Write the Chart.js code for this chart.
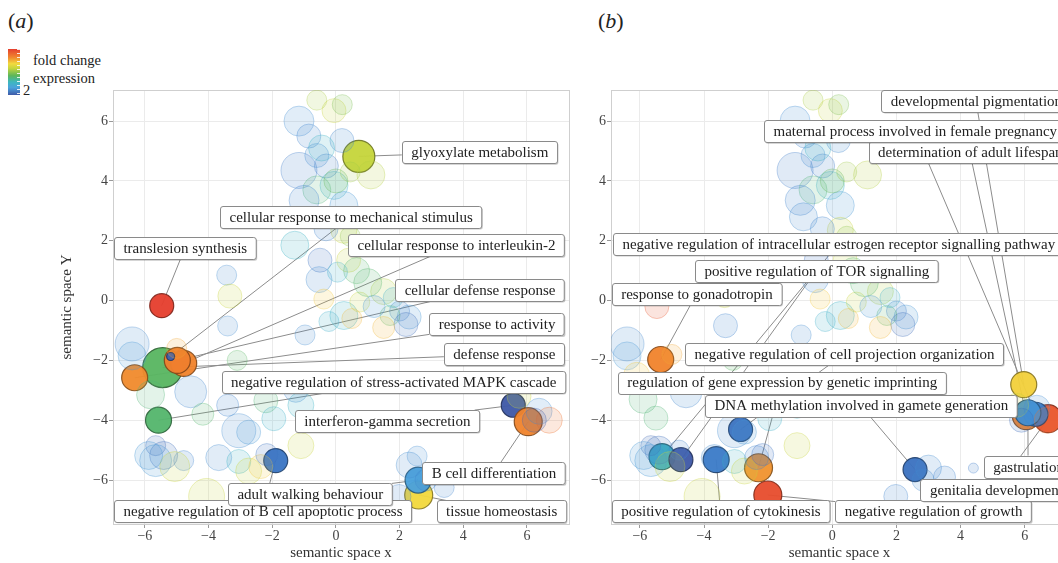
<!DOCTYPE html>
<html><head><meta charset="utf-8">
<script src="https://cdn.jsdelivr.net/npm/chart.js@4"></script>
<style>
html,body{margin:0;padding:0;width:1058px;height:563px;overflow:hidden;background:#fff;font-family:"Liberation Serif",serif;color:#222;}
canvas{position:absolute;top:0;}
#ca{left:0;}
#cb{left:560px;}
.abs{position:absolute;white-space:nowrap;}
.panel{font-size:22px;}
.leg{font-size:14.5px;color:#222;}
</style></head><body>
<div class="abs panel" style="left:8px;top:8px">(<i>a</i>)</div>
<div class="abs panel" style="left:598px;top:8px">(<i>b</i>)</div>
<div class="abs" style="left:8px;top:49px;width:12px;height:46px;background:linear-gradient(to bottom,#e53f2f 0%,#f0862e 18%,#f2da3e 32%,#c6d53c 42%,#5cb65a 58%,#3db7c0 72%,#4aa2dc 84%,#3f5aa8 100%)"></div>
<div class="abs" style="left:17px;top:49px;width:3px;height:46px;background:repeating-linear-gradient(to bottom,rgba(255,255,255,0.85) 0px,rgba(255,255,255,0.85) 1px,rgba(255,255,255,0) 1px,rgba(255,255,255,0) 4px)"></div>
<div class="abs leg" style="left:33px;top:52px">fold change</div>
<div class="abs leg" style="left:33px;top:70px">expression</div>
<div class="abs leg" style="left:23px;top:82px">2</div>
<canvas id="ca" width="594" height="563"></canvas>
<canvas id="cb" width="533" height="563"></canvas>
<script>
// ---------- tick labels ----------
const xTickValues = [-6, -4, -2, 0, 2, 4, 6];
const xTickLabels = ['−6', '−4', '−2', '0', '2', '4', '6'];
const yTickValues = [-6, -4, -2, 0, 2, 4, 6];
const yTickLabels = ['−6', '−4', '−2', '0', '2', '4', '6'];

// ---------- panel (a): highlighted GO terms ----------
const termsA = ['defense response', 'response to activity', 'cellular response to interleukin-2',
  'cellular defense response', 'cellular response to mechanical stimulus',
  'negative regulation of stress-activated MAPK cascade', 'translesion synthesis',
  'glyoxylate metabolism', 'interferon-gamma secretion', 'B cell differentiation',
  'negative regulation of B cell apoptotic process', 'tissue homeostasis', 'adult walking behaviour'];
const xA = [-5.44, -6.32, -4.78, -4.98, -5.19, -5.57, -5.47, 0.72, 5.57, 6.04, -1.89, 2.60, 2.58];
const yA = [-2.24, -2.58, -2.10, -2.00, -1.87, -4.00, -0.17, 4.82, -3.50, -4.05, -5.35, -6.50, -6.00];
const sizeA = [20, 13, 13, 13, 4, 13, 12, 16, 12, 14, 12, 14, 13];
const foldA = [5.6, 8.5, 8.6, 8.7, 2.2, 5.5, 10, 6.8, 2.0, 8.6, 2.9, 7.6, 3.9];
// label box anchors (data units) and alignment
const labelXA = [7.16, 7.16, 7.16, 7.16, -3.64, 7.19, -6.97, 2.07, -1.29, 7.19, -6.97, 7.22, -3.39];
const labelYA = [-1.80, -0.80, 1.85, 0.35, 2.79, -2.72, 1.75, 4.96, -4.03, -5.77, -7.03, -7.05, -6.47];
const labelAlignA = ['r', 'r', 'r', 'r', 'l', 'r', 'l', 'l', 'l', 'r', 'l', 'r', 'l'];

// background terms (a): [x, y, size, fold change]
const bgA = [
  [-1.16, 6.0, 15, 3.5], [-0.85, 5.5, 12, 3.2], [-0.6, 6.7, 10, 6.5], [-0.06, 6.35, 12, 6.8],
  [0.2, 6.55, 10, 6.0], [-1.16, 4.35, 18, 3.0], [-0.3, 4.5, 12, 3.0], [0.19, 5.35, 12, 3.3],
  [-0.06, 3.85, 14, 4.5], [-0.6, 3.7, 14, 5.4], [-1.0, 3.35, 15, 3.2], [0.25, 3.18, 14, 3.6],
  [1.1, 4.2, 14, 6.6], [0.25, 2.35, 13, 6.8], [0.45, 2.15, 10, 6.2], [-0.31, 2.4, 12, 3.2],
  [-0.6, 4.85, 12, 3.4], [0.45, 4.3, 10, 6.4], [-0.45, 5.1, 13, 4.6], [0.0, 4.0, 12, 5.8],
  [-1.29, 1.85, 14, 4.6], [-0.5, 1.35, 12, 2.8], [-0.53, 0.7, 13, 3.4], [0.4, 1.35, 12, 6.8],
  [0.65, 1.0, 13, 5.5], [0.05, 0.95, 10, 4.5], [-0.38, 0.05, 10, 7.8], [0.25, -0.5, 14, 4.6],
  [0.75, -0.05, 10, 6.8], [-0.22, -0.7, 10, 4.4], [0.5, -0.6, 10, 8.0], [2.0, -0.35, 10, 3.0],
  [2.3, -0.55, 12, 3.6], [1.7, -0.5, 10, 5.5], [2.2, -0.8, 12, 2.6], [1.5, -0.9, 11, 8.0],
  [1.5, 0.3, 13, 6.6], [1.0, 0.6, 14, 5.5], [1.8, 0.1, 10, 4.5], [1.2, -0.2, 11, 3.6],
  [-3.43, 0.85, 10, 3.4], [-3.33, 0.15, 12, 6.8], [-3.4, -0.85, 10, 3.4], [-0.97, -1.15, 10, 3.4],
  [-3.1, -2.0, 10, 5.6], [-6.4, -1.45, 17, 3.3], [-6.4, -1.85, 14, 3.6], [-4.56, -3.05, 16, 3.3],
  [-5.82, -3.15, 14, 5.4], [-5.0, -1.6, 10, 8.2], [-4.18, -3.8, 11, 5.5], [-3.4, -3.5, 11, 3.2],
  [-2.2, -3.35, 12, 5.4], [-3.05, -4.35, 17, 3.4], [-2.74, -4.4, 12, 3.6], [-1.95, -3.95, 12, 4.5],
  [-1.26, -3.0, 12, 3.4], [-1.1, -3.5, 13, 4.6], [-1.1, -4.85, 13, 6.8], [-5.66, -4.85, 10, 2.4],
  [-5.41, -5.18, 14, 2.6], [-5.66, -5.35, 16, 3.6], [-4.78, -5.35, 10, 3.2], [-5.06, -5.55, 15, 6.8],
  [-5.88, -5.18, 14, 3.6], [-3.68, -5.25, 13, 3.4], [-3.05, -5.38, 12, 4.6], [-2.74, -5.7, 13, 6.8],
  [-2.36, -5.55, 12, 7.8], [-2.17, -5.15, 11, 2.8], [-4.06, -6.55, 18, 6.8], [5.75, -3.2, 12, 6.8],
  [6.38, -3.7, 13, 3.5], [6.7, -4.0, 13, 9.0], [6.23, -4.0, 12, 2.2], [2.3, -5.5, 13, 3.4],
  [2.83, -6.0, 11, 3.3], [3.4, -6.25, 10, 3.2], [1.98, -6.55, 12, 3.2], [2.55, -5.2, 10, 3.5]
];

// ---------- panel (b): highlighted GO terms ----------
const termsB = ['response to gonadotropin',
  'negative regulation of intracellular estrogen receptor signalling pathway',
  'positive regulation of TOR signalling', 'positive regulation of cytokinesis',
  'negative regulation of cell projection organization',
  'regulation of gene expression by genetic imprinting', 'negative regulation of growth',
  'DNA methylation involved in gamete generation', 'developmental pigmentation',
  'genitalia development', 'determination of adult lifespan',
  'maternal process involved in female pregnancy', 'gastrulation'];
const xB = [-5.35, -5.31, -4.72, -3.62, -2.86, -2.30, -2.01, 2.58, 5.97, 6.73, 6.05, 6.35, 6.10];
const yB = [-1.97, -5.22, -5.32, -5.32, -4.31, -5.59, -6.50, -5.65, -2.81, -3.95, -3.85, -3.80, -3.75];
const sizeB = [13, 13, 12, 13, 12, 14, 14, 12, 13, 14, 14, 12, 13];
const foldB = [8.6, 4.6, 2.0, 3.0, 2.7, 8.4, 9.7, 2.8, 7.7, 9.6, 8.6, 3.0, 3.6];
const labelXB = [-6.88, -6.84, -4.28, -6.88, -4.59, -6.69, 0.09, -3.97, 1.53, 2.75, 1.13, -2.13, 4.72];
const labelYB = [0.22, 1.89, 1.00, -7.04, -1.79, -2.74, -7.04, -3.51, 6.67, -6.33, 4.96, 5.66, -5.55];
const labelAlignB = ['l', 'l', 'l', 'l', 'l', 'l', 'l', 'l', 'l', 'l', 'l', 'l', 'l'];

// background terms (b): [x, y, size, fold change]
const bgB = [
  [-1.16, 6.0, 15, 3.5], [-0.85, 5.5, 12, 3.2], [-0.6, 6.7, 10, 6.5], [-0.06, 6.35, 12, 6.8],
  [0.2, 6.55, 10, 6.0], [-1.16, 4.35, 18, 3.0], [-0.3, 4.5, 12, 3.0], [0.19, 5.35, 12, 3.3],
  [-0.06, 3.85, 14, 4.5], [-0.6, 3.7, 14, 5.4], [-1.0, 3.35, 15, 3.2], [0.25, 3.18, 14, 3.6],
  [1.1, 4.2, 14, 6.6], [0.25, 2.35, 13, 6.8], [0.45, 2.15, 10, 6.2], [-0.31, 2.4, 12, 3.2],
  [-0.6, 4.85, 12, 3.4], [0.45, 4.3, 10, 6.4], [-0.45, 5.1, 13, 4.6], [0.0, 4.0, 12, 5.8],
  [-0.9, 2.8, 14, 3.4], [-0.5, 1.35, 12, 2.8], [-0.53, 0.7, 13, 3.4], [0.4, 1.35, 12, 6.8],
  [0.65, 1.0, 13, 5.5], [0.05, 0.95, 10, 4.5], [-0.38, 0.05, 10, 7.8], [0.25, -0.5, 14, 4.6],
  [0.75, -0.05, 10, 6.8], [-0.22, -0.7, 10, 4.4], [0.5, -0.6, 10, 8.0], [2.0, -0.35, 10, 3.0],
  [2.3, -0.55, 12, 3.6], [1.7, -0.5, 10, 5.5], [2.2, -0.8, 12, 2.6], [1.5, -0.9, 11, 8.0],
  [1.5, 0.3, 13, 6.6], [1.0, 0.6, 14, 5.5], [1.8, 0.1, 10, 4.5], [1.2, -0.2, 11, 3.6],
  [-5.47, -0.2, 12, 9.5], [-3.36, 0.1, 10, 6.8], [-3.33, -0.84, 12, 3.2], [-0.97, -1.15, 10, 3.4],
  [-3.1, -2.0, 10, 5.6], [-6.4, -1.45, 17, 3.3], [-6.4, -1.85, 14, 3.6], [-4.56, -3.05, 16, 3.3],
  [-5.9, -3.3, 14, 5.4], [-5.0, -1.8, 10, 8.2], [-6.1, -2.5, 13, 7.8], [-5.5, -3.93, 12, 5.4],
  [-2.2, -3.35, 12, 5.4], [-3.05, -4.35, 17, 3.4], [-2.74, -4.4, 12, 3.6], [-1.95, -3.95, 12, 4.5],
  [-1.26, -3.0, 12, 3.4], [-1.1, -3.5, 13, 4.6], [-1.1, -4.85, 13, 6.8], [-5.66, -4.85, 10, 2.4],
  [-5.41, -5.0, 14, 2.6], [-5.66, -5.35, 16, 3.6], [-4.78, -5.0, 10, 3.2], [-5.06, -5.55, 15, 6.8],
  [-5.88, -5.18, 14, 3.6], [-3.68, -5.25, 13, 3.4], [-3.05, -5.38, 12, 4.6], [-2.74, -5.7, 13, 6.8],
  [-2.36, -5.25, 12, 3.2], [-2.17, -5.15, 11, 2.8], [-4.06, -6.55, 18, 6.8], [5.75, -3.5, 12, 6.8],
  [6.38, -3.6, 13, 3.5], [6.7, -4.0, 13, 9.0], [5.9, -4.0, 12, 2.6], [3.0, -5.6, 13, 3.4],
  [2.83, -6.0, 11, 3.3], [3.5, -5.9, 11, 3.2], [1.98, -6.55, 12, 3.2], [4.4, -5.6, 5, 3.0]
];

// ---------- colour scale ----------
const rampStops = [[0, '#3f5aa8'], [0.12, '#3b78c6'], [0.24, '#4aa2dc'], [0.34, '#35b4be'],
  [0.46, '#5cb65a'], [0.6, '#c6d53c'], [0.7, '#f2d93e'], [0.82, '#f0862e'], [1, '#e53f2f']];
function hex(h) { return [parseInt(h.slice(1, 3), 16), parseInt(h.slice(3, 5), 16), parseInt(h.slice(5, 7), 16)]; }
function rampRGB(fc) {
  let t = Math.max(0, Math.min(1, (fc - 2) / 8));
  for (let i = 1; i < rampStops.length; i++) {
    if (t <= rampStops[i][0]) {
      const a = rampStops[i - 1], b = rampStops[i];
      const u = (t - a[0]) / (b[0] - a[0]);
      const ca = hex(a[1]), cb = hex(b[1]);
      return ca.map((v, k) => v + (cb[k] - v) * u);
    }
  }
  return hex(rampStops[rampStops.length - 1][1]);
}
function rgba(c, a, m) { m = m || 1; return `rgba(${Math.round(c[0] * m)},${Math.round(c[1] * m)},${Math.round(c[2] * m)},${a})`; }

const FONT = '"Liberation Serif", "Times New Roman", serif';
const BOX_FONT = '15px ' + FONT;

// ---------- plugins ----------
function boxOf(chart, it) {
  const ctx = chart.ctx;
  ctx.save(); ctx.font = BOX_FONT;
  const w = ctx.measureText(it.text).width + 18;
  ctx.restore();
  const h = 22;
  const px = chart.scales.x.getPixelForValue(it.lx);
  const py = chart.scales.y.getPixelForValue(it.ly);
  const bx = it.align === 'r' ? px - w : px;
  return { x: bx, y: py - h / 2, w: w, h: h };
}
const framePlugin = {
  id: 'frame',
  beforeDatasetsDraw(chart) {
    const a = chart.chartArea, ctx = chart.ctx;
    ctx.save(); ctx.strokeStyle = '#cfcfcf'; ctx.lineWidth = 1;
    ctx.strokeRect(Math.round(a.left) + 0.5, Math.round(a.top) + 0.5, Math.round(a.right - a.left), Math.round(a.bottom - a.top));
    ctx.restore();
  }
};
const repelPlugin = {
  id: 'repel',
  beforeDatasetsDraw(chart, args, opts) {
    const ctx = chart.ctx;
    ctx.save(); ctx.strokeStyle = '#8c8c8c'; ctx.lineWidth = 1;
    opts.items.forEach(it => {
      const b = boxOf(chart, it);
      const bxp = chart.scales.x.getPixelForValue(it.x), byp = chart.scales.y.getPixelForValue(it.y);
      const cx = b.x + b.w / 2, cy = b.y + b.h / 2;
      const dx = bxp - cx, dy = byp - cy;
      const s = Math.min(dx === 0 ? Infinity : (b.w / 2) / Math.abs(dx), dy === 0 ? Infinity : (b.h / 2) / Math.abs(dy));
      if (s >= 1) return;
      ctx.beginPath(); ctx.moveTo(bxp, byp); ctx.lineTo(cx + dx * s, cy + dy * s); ctx.stroke();
    });
    ctx.restore();
  },
  afterDatasetsDraw(chart, args, opts) {
    const ctx = chart.ctx;
    opts.items.forEach(it => {
      const b = boxOf(chart, it);
      ctx.save();
      ctx.fillStyle = 'rgba(0,0,0,0.22)';
      ctx.beginPath(); ctx.roundRect(b.x + 1.5, b.y + 1.5, b.w, b.h, 2.5); ctx.fill();
      ctx.fillStyle = '#ffffff'; ctx.strokeStyle = '#8a8a8a'; ctx.lineWidth = 1;
      ctx.beginPath(); ctx.roundRect(Math.round(b.x) + 0.5, Math.round(b.y) + 0.5, b.w, b.h, 2.5); ctx.fill(); ctx.stroke();
      ctx.fillStyle = '#222'; ctx.font = BOX_FONT; ctx.textBaseline = 'middle'; ctx.textAlign = 'left';
      ctx.fillText(it.text, b.x + 9.5, b.y + b.h / 2 + 1);
      ctx.restore();
    });
  }
};

function makePanel(id, cfg) {
  const bgData = cfg.bg.map(b => ({ x: b[0], y: b[1], r: b[2] }));
  const hlData = cfg.terms.map((t, i) => ({ x: cfg.x[i], y: cfg.y[i], r: cfg.size[i] }));
  const items = cfg.terms.map((t, i) => ({ text: t, x: cfg.x[i], y: cfg.y[i], lx: cfg.lx[i], ly: cfg.ly[i], align: cfg.al[i] }));
  const tickFont = { family: FONT, size: 14 };
  const titleFont = { family: FONT, size: 15 };
  return new Chart(document.getElementById(id), {
    type: 'bubble',
    data: {
      datasets: [
        { data: bgData, backgroundColor: cfg.bg.map(b => rgba(rampRGB(b[3]), 0.16)),
          borderColor: cfg.bg.map(b => rgba(rampRGB(b[3]), 0.32)), borderWidth: 1 },
        { data: hlData, backgroundColor: cfg.fold.map(f => rgba(rampRGB(f), 0.96)),
          borderColor: cfg.fold.map(f => rgba(rampRGB(f), 0.9, 0.55)), borderWidth: 1.2 }
      ]
    },
    options: {
      responsive: false, animation: false, events: [],
      layout: { padding: cfg.pad },
      plugins: { legend: { display: false }, tooltip: { enabled: false }, repel: { items: items } },
      scales: {
        x: {
          type: 'linear', min: cfg.xr[0], max: cfg.xr[1],
          afterBuildTicks: s => { s.ticks = xTickValues.map(v => ({ value: v })); },
          afterFit: s => { s.height = 39; },
          grid: { color: '#ebebeb', lineWidth: 1, tickColor: '#999', tickLength: 4, drawTicks: true },
          border: { display: false },
          ticks: { font: tickFont, color: '#444', padding: 0, maxRotation: 0, autoSkip: false,
            callback: v => xTickLabels[xTickValues.indexOf(v)] },
          title: { display: true, text: 'semantic space x', font: titleFont, color: '#333', padding: { top: 0, bottom: 1 } }
        },
        y: {
          type: 'linear', min: -7.47, max: 7.04,
          afterBuildTicks: s => { s.ticks = yTickValues.map(v => ({ value: v })); },
          afterFit: s => { s.width = cfg.yw; },
          grid: { color: '#ebebeb', lineWidth: 1, tickColor: '#999', tickLength: 4, drawTicks: true },
          border: { display: false },
          ticks: { font: tickFont, color: '#444', padding: 1, autoSkip: false,
            callback: v => yTickLabels[yTickValues.indexOf(v)] },
          title: { display: cfg.ytitle, text: 'semantic space Y', font: titleFont, color: '#333', padding: { top: 0, bottom: 0 } }
        }
      }
    },
    plugins: [framePlugin, repelPlugin]
  });
}

makePanel('ca', { bg: bgA, terms: termsA, x: xA, y: yA, size: sizeA, fold: foldA,
  lx: labelXA, ly: labelYA, al: labelAlignA, xr: [-7.0, 7.32],
  pad: { left: 58, right: 25, top: 90, bottom: 0 }, yw: 55, ytitle: true });
makePanel('cb', { bg: bgB, terms: termsB, x: xB, y: yB, size: sizeB, fold: foldB,
  lx: labelXB, ly: labelYB, al: labelAlignB, xr: [-6.9, 7.35],
  pad: { left: 0, right: 25, top: 90, bottom: 0 }, yw: 51, ytitle: false });
</script>
</body></html>
